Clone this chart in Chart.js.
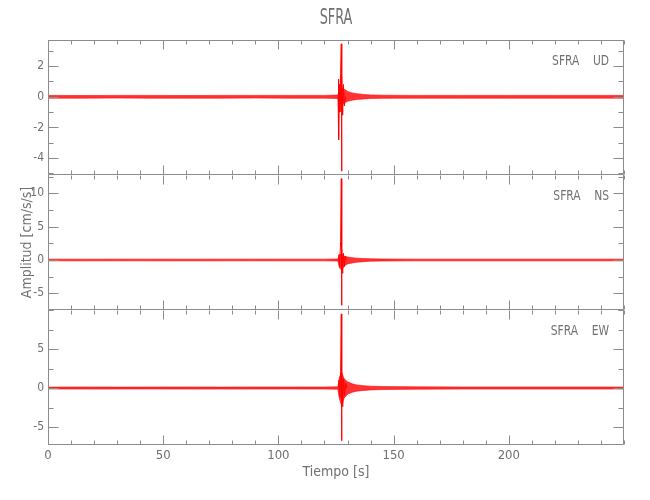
<!DOCTYPE html>
<html>
<head>
<meta charset="utf-8">
<title>SFRA</title>
<script src="https://cdn.jsdelivr.net/npm/chart.js@4.4.0/dist/chart.umd.min.js"></script>
<style>
  html, body { margin: 0; padding: 0; background: #fff; }
  #wrap { position: relative; width: 650px; height: 500px; }
  #wrap canvas { position: absolute; left: 0; top: 0; }
</style>
</head>
<body>
<div id="wrap">
  <canvas id="ud" width="650" height="500"></canvas>
  <canvas id="ns" width="650" height="500"></canvas>
  <canvas id="ew" width="650" height="500"></canvas>
</div>
<script>
/* ── Data ──────────────────────────────────────────────────────────────── */
const station  = 'SFRA';
const channels = ['UD', 'NS', 'EW'];
const xTicks   = [0, 50, 100, 150, 200];
const udTicks  = [-4, -2, 0, 2];
const nsTicks  = [-5, 0, 5, 10];
const ewTicks  = [-5, 0, 5];

// noise envelope, seconds
const envT  = [0, 15, 30, 45, 60, 75, 90, 105, 120, 125.8, 126.5, 127.5, 128.5, 130, 132, 134, 137, 140, 145, 160, 180, 200, 220, 240, 250];
const udUp  = [0.09, 0.08, 0.09, 0.09, 0.08, 0.09, 0.09, 0.09, 0.09, 0.11, 0.45, 0.6, 0.5, 0.35, 0.25, 0.2, 0.15, 0.12, 0.1, 0.09, 0.09, 0.09, 0.09, 0.09, 0.09];
const udLo  = [-0.09, -0.09, -0.08, -0.09, -0.09, -0.09, -0.08, -0.09, -0.09, -0.11, -0.4, -0.5, -0.4, -0.3, -0.22, -0.18, -0.14, -0.11, -0.1, -0.09, -0.09, -0.09, -0.09, -0.09, -0.09];
const nsUp  = [0.13, 0.12, 0.13, 0.13, 0.12, 0.13, 0.13, 0.13, 0.13, 0.15, 0.8, 0.9, 0.6, 0.45, 0.35, 0.28, 0.22, 0.18, 0.15, 0.13, 0.13, 0.13, 0.13, 0.13, 0.13];
const nsLo  = [-0.13, -0.13, -0.12, -0.13, -0.13, -0.13, -0.12, -0.13, -0.13, -0.15, -1.2, -1.5, -0.9, -0.6, -0.45, -0.33, -0.25, -0.18, -0.15, -0.13, -0.13, -0.13, -0.13, -0.13, -0.13];
const ewUp  = [0.12, 0.13, 0.12, 0.13, 0.13, 0.12, 0.13, 0.13, 0.13, 0.15, 1.4, 2.0, 1.2, 0.8, 0.55, 0.4, 0.3, 0.24, 0.19, 0.15, 0.13, 0.13, 0.13, 0.13, 0.13];
const ewLo  = [-0.12, -0.13, -0.13, -0.12, -0.13, -0.13, -0.13, -0.12, -0.13, -0.15, -1.4, -2.3, -1.3, -0.8, -0.55, -0.4, -0.3, -0.24, -0.19, -0.15, -0.13, -0.13, -0.13, -0.13, -0.13];

// main arrival, seconds / cm/s/s
const udSpikeT = [125.9, 126.1, 126.2, 126.4, 126.7, 127.0, 127.3, 127.4, 127.6, 127.9, 128.2, 128.6, 129.1];
const udSpikeV = [0, 1.15, -2.8, 0.8, -1.0, 1.5, 3.45, -4.85, 1.6, -1.2, 0.8, -0.6, 0];
const nsSpikeT = [125.9, 126.3, 126.6, 127.0, 127.3, 127.4, 127.6, 127.9, 128.2, 128.6, 129.0, 129.5];
const nsSpikeV = [0, 0.8, -1.0, 2.8, 12.2, -6.8, 1.8, -2.0, 1.0, -1.0, 0.6, 0];
const ewSpikeT = [125.9, 126.3, 126.7, 127.0, 127.3, 127.4, 127.6, 127.9, 128.3, 128.7, 129.2, 129.8];
const ewSpikeV = [0, 1.0, -1.2, 2.1, 9.5, -6.75, 2.0, -2.4, 1.2, -1.0, 0.6, 0];

/* ── Style ─────────────────────────────────────────────────────────────── */
const RED   = '#ff0000';
const AXIS  = '#8c8c8c';
const TEXT  = '#707070';
const FONT  = "'Liberation Sans Narrow', 'DejaVu Sans Condensed', 'Liberation Sans', sans-serif";
const X_MAX = 250;

const pts = (ts, vs) => ts.map((t, i) => ({ x: t, y: vs[i] }));

/* ── Frame, inward ticks and labels ────────────────────────────────────── */
const framePlugin = {
  id: 'frame',
  afterDraw(chart, args, o) {
    const { ctx, chartArea: a, scales } = chart;
    const xs = scales.x, ys = scales.y;
    const L = Math.round(a.left) + 0.5, R = Math.round(a.right) - 0.5;
    const T = Math.round(a.top) + 0.5,  B = Math.round(a.bottom) - 0.5;

    ctx.save();
    ctx.strokeStyle = AXIS;
    ctx.lineWidth = 1;
    ctx.beginPath();
    if (o.drawTop) { ctx.moveTo(L, T); ctx.lineTo(R, T); }
    ctx.moveTo(L, a.top); ctx.lineTo(L, B); ctx.lineTo(R, B); ctx.lineTo(R, a.top);

    for (let t = 0; t <= X_MAX; t += 10) {
      const px = Math.round(xs.getPixelForValue(t)) + 0.5;
      const len = xTicks.includes(t) ? 9 : 4;
      ctx.moveTo(px, T); ctx.lineTo(px, T + len);
      ctx.moveTo(px, B); ctx.lineTo(px, B - len);
    }
    for (let v = Math.ceil(ys.min / o.minor) * o.minor; v <= ys.max; v += o.minor) {
      const py = Math.round(ys.getPixelForValue(v)) + 0.5;
      const len = o.ticks.includes(v) ? 10 : 5;
      ctx.moveTo(L, py); ctx.lineTo(L + len, py);
      ctx.moveTo(R, py); ctx.lineTo(R - len, py);
    }
    ctx.stroke();

    ctx.fillStyle = TEXT;
    ctx.textBaseline = 'middle';
    ctx.font = '14px ' + FONT;
    ctx.textAlign = 'right';
    ctx.save();
    ctx.translate(609, a.top + 21.5);
    ctx.scale(0.85, 1);
    ctx.fillText(station + '    ' + o.channel, 0, 0);
    ctx.restore();

    if (o.title) {
      ctx.font = '21px ' + FONT;
      ctx.textAlign = 'center';
      ctx.translate((a.left + a.right) / 2, 19);
      ctx.scale(0.68, 1);
      ctx.fillText(station, 0, 0);
    }
    ctx.restore();
  }
};

/* ── Panels ────────────────────────────────────────────────────────────── */
function drawPanel(id, p) {
  const canvas = document.getElementById(id);
  return new Chart(canvas.getContext('2d'), {
    type: 'line',
    data: {
      datasets: [
        { data: pts(envT, p.up), borderColor: RED, borderWidth: 0.6, pointRadius: 0, fill: false },
        { data: pts(envT, p.lo), borderColor: RED, borderWidth: 0.6, pointRadius: 0,
          fill: '-1', backgroundColor: 'rgba(255,0,0,0.8)' },
        { data: pts(p.spikeT, p.spikeV), borderColor: RED, borderWidth: 1, pointRadius: 0, fill: false }
      ]
    },
    options: {
      responsive: false, animation: false, devicePixelRatio: 1, events: [],
      layout: { padding: { top: p.top, bottom: p.showX ? 0 : 500 - p.bottom, left: 0, right: 26 } },
      plugins: {
        legend: { display: false }, tooltip: { enabled: false },
        frame: { channel: p.channel, ticks: p.ticks, minor: p.minor, drawTop: !!p.drawTop, title: !!p.title }
      },
      scales: {
        x: {
          type: 'linear', min: 0, max: X_MAX, display: !!p.showX,
          afterBuildTicks: s => { s.ticks = xTicks.map(v => ({ value: v })); },
          afterFit: s => { s.height = p.showX ? 55 : 0; },
          grid: { display: false, drawTicks: false }, border: { display: false },
          ticks: { color: TEXT, padding: 3, maxRotation: 0, font: { family: FONT, size: 13 } },
          title: { display: true, text: 'Tiempo [s]', color: TEXT,
                   font: { family: FONT, size: 14 }, padding: { top: 0, bottom: 19 } }
        },
        y: {
          min: p.min, max: p.max,
          afterBuildTicks: s => { s.ticks = p.ticks.map(v => ({ value: v })); },
          afterFit: s => { s.width = 48; },
          grid: { display: false, drawTicks: false }, border: { display: false },
          ticks: { color: TEXT, padding: 4, font: { family: FONT, size: 12 } },
          title: { display: !!p.yTitle, text: 'Amplitud [cm/s/s]', color: TEXT,
                   font: { family: FONT, size: 14 }, padding: { top: 19, bottom: 0 } }
        }
      }
    },
    plugins: [framePlugin]
  });
}

drawPanel('ud', { top: 40, bottom: 175, min: -5.1, max: 3.7, ticks: udTicks, minor: 1,
  up: udUp, lo: udLo, spikeT: udSpikeT, spikeV: udSpikeV, channel: channels[0], drawTop: true, title: true });
drawPanel('ns', { top: 175, bottom: 310, min: -7.5, max: 12.75, ticks: nsTicks, minor: 2.5,
  up: nsUp, lo: nsLo, spikeT: nsSpikeT, spikeV: nsSpikeV, channel: channels[1], yTitle: true });
drawPanel('ew', { top: 310, bottom: 445, min: -7.3, max: 10, ticks: ewTicks, minor: 2.5,
  up: ewUp, lo: ewLo, spikeT: ewSpikeT, spikeV: ewSpikeV, channel: channels[2], showX: true });
</script>
</body>
</html>
